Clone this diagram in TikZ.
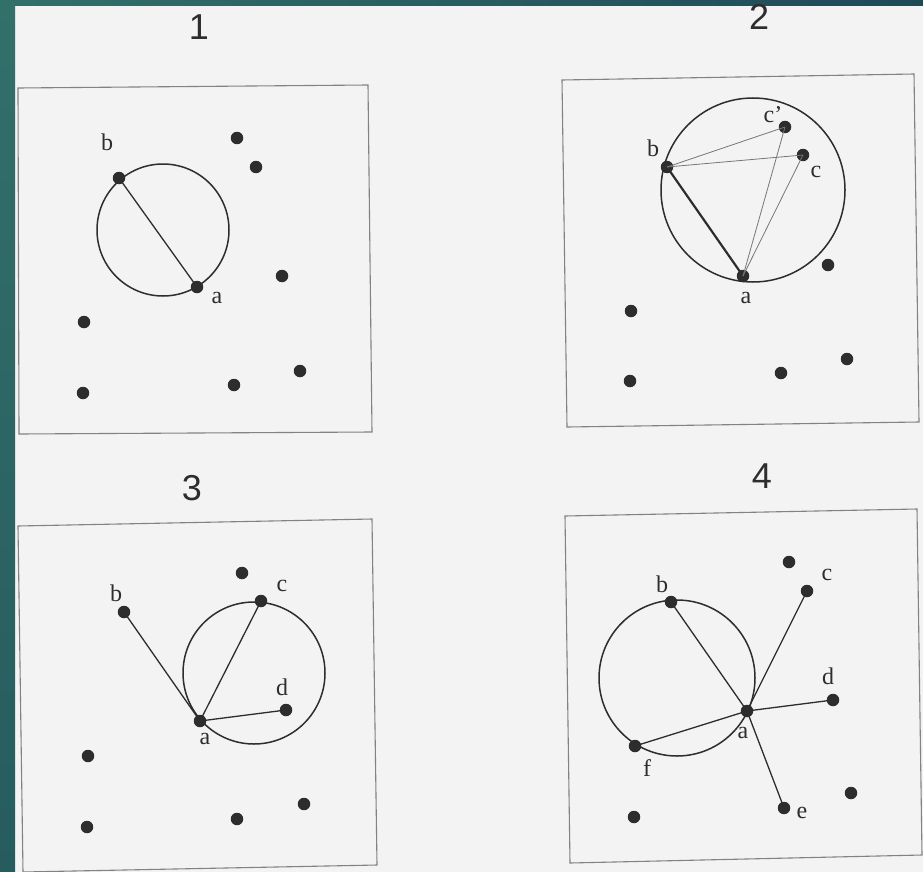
\documentclass[tikz,border=0pt]{standalone}
\usepackage{fontspec}
\setmainfont{Liberation Serif}
\newfontfamily\numfont{Liberation Sans}
\definecolor{paper}{RGB}{243,243,243}
\definecolor{tealA}{RGB}{50,112,106}
\definecolor{tealB}{RGB}{38,92,94}
\definecolor{tealC}{RGB}{30,74,88}
\definecolor{boxgray}{RGB}{130,130,130}
\definecolor{ink}{RGB}{45,45,45}
\begin{document}
\begin{tikzpicture}[x=1pt,y=-1pt,
  pt/.style={circle,fill=ink,draw=none,inner sep=0pt,minimum size=12.5pt},
  lbl/.style={font=\fontsize{24}{24}\selectfont,text=ink,inner sep=0pt},
  num/.style={font=\numfont\fontsize{36}{36}\selectfont,text=ink,inner sep=0pt},
  boxline/.style={draw=boxgray,line width=1.1pt},
  circ/.style={draw=ink,line width=1.5pt},
  edge/.style={draw=ink,line width=1.3pt},
  thickedge/.style={draw=ink,line width=2.2pt},
  thinedge/.style={draw=ink!65,line width=0.8pt}]
\useasboundingbox (0,0) rectangle (923,872);
\fill[paper] (0,0) rectangle (923,872);
\shade[top color=tealA,bottom color=tealB] (0,0) rectangle (15,872);
\shade[left color=tealA,right color=tealC] (0,0) rectangle (923,6);

% ---------- Panel 1 ----------
\node[num] (n1) at (199,27) {1};
\draw[boxline] (18,88) -- (368,85) -- (372,432) -- (19,434) -- cycle;
\draw[circ] (163,230) circle (66);
\node[pt] (b1) at (119,178) {};
\node[pt] (a1) at (197,287) {};
\node[lbl] (lb1) at (107,142) {b};
\node[lbl] (la1) at (217,298) {a};
\draw[edge] (b1.center) -- (a1.center);
\node[pt] (p11) at (237,138) {};
\node[pt] (p12) at (256,167) {};
\node[pt] (p13) at (282,276) {};
\node[pt] (p14) at (84,322) {};
\node[pt] (p15) at (83,393) {};
\node[pt] (p16) at (234,385) {};
\node[pt] (p17) at (300,371) {};

% ---------- Panel 2 ----------
\node[num] (n2) at (759,17) {2};
\draw[boxline] (562,80) -- (914,74) -- (919,422) -- (567,427) -- cycle;
\draw[circ] (753,190) circle (92);
\node[pt] (b2) at (667,167) {};
\node[pt] (cp2) at (785,127) {};
\node[pt] (c2) at (803,155) {};
\node[pt] (a2) at (743,276) {};
\node[lbl] (lb2) at (653,148) {b};
\node[lbl] (lcp2) at (773,115) {c'};
\node[lbl] (lc2) at (816,172) {c};
\node[lbl] (la2) at (746,298) {a};
\draw[thickedge] (b2.center) -- (a2.center);
\draw[thinedge] (b2.center) -- (cp2.center);
\draw[thinedge] (b2.center) -- (c2.center);
\draw[thinedge] (a2.center) -- (cp2.center);
\draw[thinedge] (a2.center) -- (c2.center);
\node[pt] (p21) at (828,265) {};
\node[pt] (p22) at (631,311) {};
\node[pt] (p23) at (630,381) {};
\node[pt] (p24) at (781,373) {};
\node[pt] (p25) at (847,359) {};

% ---------- Panel 3 ----------
\node[num] (n3) at (192,488) {3};
\draw[boxline] (18,526) -- (372,519) -- (377,865) -- (23,872) -- cycle;
\draw[circ] (254,673) circle (71);
\node[pt] (b3) at (124,612) {};
\node[pt] (c3) at (261,601) {};
\node[pt] (a3) at (200,721) {};
\node[pt] (d3) at (286,710) {};
\node[lbl] (lb3) at (116,593) {b};
\node[lbl] (lc3) at (282,586) {c};
\node[lbl] (la3) at (205,739) {a};
\node[lbl] (ld3) at (282,687) {d};
\draw[edge] (a3.center) -- (b3.center);
\draw[edge] (a3.center) -- (c3.center);
\draw[edge] (a3.center) -- (d3.center);
\node[pt] (p31) at (242,573) {};
\node[pt] (p32) at (88,756) {};
\node[pt] (p33) at (87,827) {};
\node[pt] (p34) at (237,819) {};
\node[pt] (p35) at (304,804) {};

% ---------- Panel 4 ----------
\node[num] (n4) at (762,476) {4};
\draw[boxline] (565,516) -- (917,509) -- (922,855) -- (570,863) -- cycle;
\draw[circ] (677,678) circle (78);
\node[pt] (b4) at (671,602) {};
\node[pt] (c4) at (807,591) {};
\node[pt] (d4) at (833,700) {};
\node[pt] (a4) at (747,711) {};
\node[pt] (f4) at (635,746) {};
\node[pt] (e4) at (784,808) {};
\node[lbl] (lb4) at (662,584) {b};
\node[lbl] (lc4) at (827,575) {c};
\node[lbl] (ld4) at (828,676) {d};
\node[lbl] (la4) at (743,733) {a};
\node[lbl] (lf4) at (647,768) {f};
\node[lbl] (le4) at (802,813) {e};
\draw[edge] (a4.center) -- (b4.center);
\draw[edge] (a4.center) -- (c4.center);
\draw[edge] (a4.center) -- (d4.center);
\draw[edge] (a4.center) -- (e4.center);
\draw[edge] (a4.center) -- (f4.center);
\node[pt] (p41) at (789,562) {};
\node[pt] (p42) at (851,793) {};
\node[pt] (p43) at (634,817) {};
\end{tikzpicture}
\end{document}
